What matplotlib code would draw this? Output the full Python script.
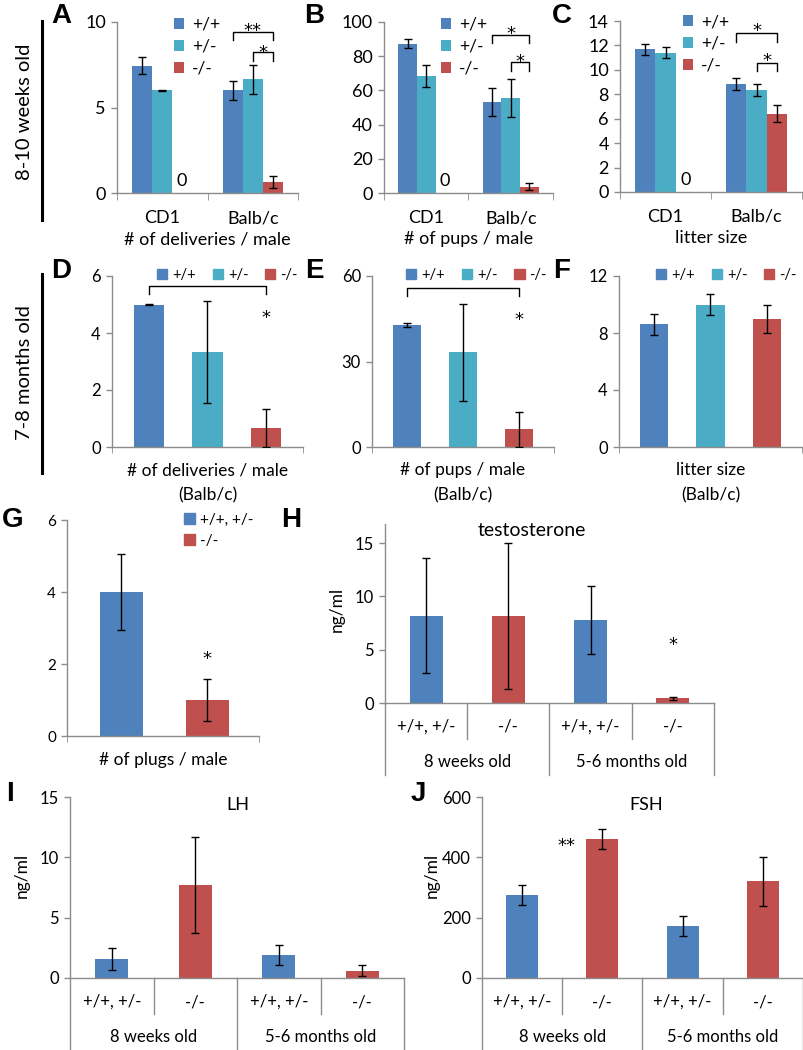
import numpy as np
import matplotlib
matplotlib.use('Agg')
import matplotlib.pyplot as plt
from matplotlib.patches import Patch
from matplotlib.lines import Line2D

plt.rcParams['font.family'] = ['Lato', 'DejaVu Sans']

## DATA

strains = ['CD1', 'Balb/c']
genotypes = ['+/+', '+/-', '-/-']
nan = np.nan

# 8-10 weeks old
a_wt, a_wt_err = [7.45, 6.0], [0.5, 0.57]
a_het, a_het_err = [6.0, 6.65], [0.02, 0.86]
a_ko, a_ko_err = [0, 0.65], [nan, 0.35]

b_wt, b_wt_err = [87.3, 53.2], [2.5, 8.0]
b_het, b_het_err = [68.2, 55.6], [6.5, 11.2]
b_ko, b_ko_err = [0, 3.8], [nan, 2.3]

c_wt, c_wt_err = [11.67, 8.85], [0.48, 0.52]
c_het, c_het_err = [11.42, 8.38], [0.45, 0.5]
c_ko, c_ko_err = [0, 6.42], [nan, 0.68]

# 7-8 months old (Balb/c)
d_vals, d_err = [5.0, 3.33, 0.67], [0.02, 1.78, 0.68]
e_vals, e_err = [42.8, 33.3, 6.2], [0.7, 17.0, 6.1]
f_vals, f_err = [8.6, 10.0, 9.0], [0.74, 0.76, 1.0]

# plugs
g_labels = ['+/+, +/-', '-/-']
g_vals, g_err = [4.0, 1.0], [1.06, 0.58]

# hormones
horm_labels = ['+/+, +/-', '-/-', '+/+, +/-', '-/-']
age_labels = ['8 weeks old', '5-6 months old']
h_vals, h_err = [8.2, 8.15, 7.8, 0.45], [5.4, 6.85, 3.2, 0.15]
i_vals, i_err = [1.55, 7.7, 1.9, 0.6], [0.9, 3.95, 0.85, 0.45]
j_vals, j_err = [275, 460, 172, 320], [33, 33, 32, 80]

BLUE = '#4F81BD'
CYAN = '#4BACC6'
RED = '#C0504D'
GRAY = '#8C8C8C'
cols3 = [BLUE, CYAN, RED]
cols4 = [BLUE, RED, BLUE, RED]

W, H = 804, 1050
PX = 72 / 100.0  # points per pixel
fig = plt.figure(figsize=(W / 100, H / 100), dpi=100)


def add_ax(x0, x1, y0, y1):
    return fig.add_axes([x0 / W, 1 - y1 / H, (x1 - x0) / W, (y1 - y0) / H])


def ftext(x, y, s, **kw):
    fig.text(x / W, 1 - y / H, s, ha=kw.pop('ha', 'center'), va=kw.pop('va', 'center'), **kw)


def style(ax, ylim, yticks, fs):
    for s in ['top', 'right']:
        ax.spines[s].set_visible(False)
    for s in ['left', 'bottom']:
        ax.spines[s].set_color(GRAY)
        ax.spines[s].set_linewidth(1)
    ax.set_ylim(*ylim)
    ax.set_yticks(yticks)
    ax.tick_params(axis='y', direction='out', length=4, width=1, color=GRAY, labelsize=fs, pad=4)
    ax.patch.set_alpha(0)


def errs(ax, xs, vals, err):
    xs = np.asarray(xs, float)
    vals = np.asarray(vals, float)
    err = np.asarray(err, float)
    ok = ~np.isnan(err)
    ax.errorbar(xs[ok], vals[ok], yerr=err[ok], fmt='none', ecolor='black',
                elinewidth=1, capsize=3, capthick=1, zorder=3)


def bracket(ax, x1, x2, y, yend):
    ax.plot([x1, x1, x2, x2], [yend, y, y, yend], color='black', lw=1, clip_on=False)


def star(ax, x, y, s, fs=13):
    # y is where the middle of the star should sit
    ax.annotate(s, (x, y), xytext=(0, -11 * PX), textcoords='offset points',
                ha='center', va='baseline', fontsize=fs, family='DejaVu Sans',
                annotation_clip=False)


def below(ax, x, px, s, fs):
    ax.annotate(s, (x, 0), xycoords=('data', 'axes fraction'), xytext=(0, -px * PX),
                textcoords='offset points', ha='center', va='center', fontsize=fs,
                annotation_clip=False)


def strain_panel(ax, series, series_err, ylim, yticks, xlab):
    w = 0.22
    hs = []
    for k, (v, e, c) in enumerate(zip(series, series_err, cols3)):
        xs = np.arange(2) + (k - 1) * w
        hs.append(ax.bar(xs, v, w, color=c, zorder=2))
        errs(ax, xs, v, e)
    style(ax, ylim, yticks, 13)
    ax.set_xlim(-0.5, 1.5)
    ax.set_xticks([])
    ax.set_xticks([-0.5, 0.5, 1.5], minor=True)
    ax.tick_params(axis='x', which='minor', direction='out', length=5, color=GRAY)
    for i, s in enumerate(strains):
        below(ax, i, 25, s, 13)
    below(ax, 0.5, 46, xlab, 13)
    ax.annotate('0', (w, 0), xytext=(0, 3), textcoords='offset points',
                ha='center', va='bottom', fontsize=13)
    ax.legend(hs, genotypes, loc='upper left', frameon=False, fontsize=12.5,
              handlelength=0.6, handleheight=0.6, handletextpad=0.45,
              labelspacing=0.33, borderpad=0, borderaxespad=0)
    return hs


def place_legend(ax, x, y):
    ax.get_legend().set_bbox_to_anchor((x / W, 1 - y / H), transform=fig.transFigure)


def single_panel(ax, vals, err, ylim, yticks, xlab):
    x = np.arange(3)
    ax.bar(x, vals, 0.51, color=cols3, zorder=2)
    errs(ax, x, vals, err)
    style(ax, ylim, yticks, 12)
    ax.set_xlim(-0.62, 2.62)
    ax.set_xticks([])
    ax.set_xticks([-0.62, 2.62], minor=True)
    ax.tick_params(axis='x', which='minor', direction='out', length=4, color=GRAY)
    below(ax, 1, 23, xlab, 12.5)
    below(ax, 1, 48, '(Balb/c)', 12.5)
    handles = [Patch(color=c) for c in cols3]
    ax.legend(handles, genotypes, loc='upper left', ncol=3, frameon=False, fontsize=10.5,
              handlelength=0.7, handleheight=0.7, handletextpad=0.35, columnspacing=1.15,
              borderpad=0, borderaxespad=0)


def two_level(ax, axh, fs=12):
    tr = ax.get_xaxis_transform()
    ax.set_xlim(-0.5, 3.5)
    ax.set_xticks([])
    for i, s in enumerate(horm_labels):
        ax.text(i, -24 / axh, s, transform=tr, ha='center', va='center', fontsize=fs)
    for xb in [0.5, 2.5]:
        ax.plot([xb, xb], [0, -36 / axh], transform=tr, color=GRAY, lw=1, clip_on=False)
    for xb in [-0.5, 1.5, 3.5]:
        ax.plot([xb, xb], [0, -72 / axh], transform=tr, color=GRAY, lw=1, clip_on=False)
    for i, s in enumerate(age_labels):
        ax.text(0.5 + 2 * i, -59 / axh, s, transform=tr, ha='center', va='center', fontsize=fs)


def horm_panel(ax, vals, err, ylim, yticks, axh):
    x = np.arange(4)
    ax.bar(x, vals, 0.4, color=cols4, zorder=2)
    errs(ax, x, vals, err)
    style(ax, ylim, yticks, 12)
    two_level(ax, axh)


## ROW 1: 8-10 WEEKS OLD

axA = add_ax(117, 298, 22, 193)
strain_panel(axA, [a_wt, a_het, a_ko], [a_wt_err, a_het_err, a_ko_err], (0, 10), [0, 5, 10],
             '# of deliveries / male')
place_legend(axA, 174, 17)
bracket(axA, 0.78, 1.22, 9.4, 8.96)
bracket(axA, 1.0, 1.22, 8.26, 7.74)
star(axA, 1.0, 9.82, '**')
star(axA, 1.11, 8.56, '*')

axB = add_ax(384, 553, 22, 193)
strain_panel(axB, [b_wt, b_het, b_ko], [b_wt_err, b_het_err, b_ko_err], (0, 100),
             [0, 20, 40, 60, 80, 100], '# of pups / male')
place_legend(axB, 441, 17)
bracket(axB, 0.78, 1.22, 92.6, 87.9)
bracket(axB, 1.0, 1.22, 76.8, 71.5)
star(axB, 1.0, 96.7, '*')
star(axB, 1.11, 80.3, '*')

axC = add_ax(620, 802, 21, 192)
strain_panel(axC, [c_wt, c_het, c_ko], [c_wt_err, c_het_err, c_ko_err], (0, 14),
             [0, 2, 4, 6, 8, 10, 12, 14], 'litter size')
place_legend(axC, 683, 14)
bracket(axC, 0.78, 1.22, 13.0, 12.27)
bracket(axC, 1.0, 1.22, 10.55, 9.89)
star(axC, 1.0, 13.7, '*')
star(axC, 1.11, 11.2, '*')

## ROW 2: 7-8 MONTHS OLD

axD = add_ax(112, 303, 276, 447)
single_panel(axD, d_vals, d_err, (0, 6), [0, 2, 4, 6], '# of deliveries / male')
place_legend(axD, 157, 268)
bracket(axD, 0, 2, 5.65, 5.37)
star(axD, 2, 4.73, '*')

axE = add_ax(372, 554, 276, 447)
single_panel(axE, e_vals, e_err, (0, 60), [0, 30, 60], '# of pups / male')
place_legend(axE, 406, 268)
bracket(axE, 0, 2, 55.7, 53.0)
star(axE, 2, 46.7, '*')

axF = add_ax(619, 802, 276, 447)
single_panel(axF, f_vals, f_err, (0, 12), [0, 4, 8, 12], 'litter size')
place_legend(axF, 656, 268)

## G: PLUGS

axG = add_ax(67, 259, 520, 736)
axG.bar([0, 1], g_vals, 0.5, color=[BLUE, RED], zorder=2)
errs(axG, [0, 1], g_vals, g_err)
style(axG, (0, 6), [0, 2, 4, 6], 11)
axG.set_xlim(-0.63, 1.6)
axG.set_xticks([])
axG.set_xticks([-0.63, 1.6], minor=True)
axG.tick_params(axis='x', which='minor', direction='out', length=4, color=GRAY)
below(axG, 0.485, 24, '# of plugs / male', 12.5)
star(axG, 1, 2.3, '*')
axG.legend([Patch(color=BLUE), Patch(color=RED)], g_labels, loc='upper left', frameon=False,
           fontsize=11, handlelength=0.7, handleheight=0.7, handletextpad=0.35,
           labelspacing=0.45, borderpad=0, borderaxespad=0,
           bbox_to_anchor=(184 / W, 1 - 513 / H), bbox_transform=fig.transFigure)

## H, I, J: HORMONES

axH = add_ax(385, 714, 524, 703)
horm_panel(axH, h_vals, h_err, (0, 16.8), [0, 5, 10, 15], 179)
star(axH, 3, 6.0, '*')

axI = add_ax(70, 404, 797, 978)
horm_panel(axI, i_vals, i_err, (0, 15), [0, 5, 10, 15], 181)

axJ = add_ax(482, 803, 797, 978)
horm_panel(axJ, j_vals, j_err, (0, 600), [0, 200, 400, 600], 181)
star(axJ, 0.55, 457, '**')

ftext(532, 531, 'testosterone', fontsize=14)
ftext(238, 805, 'LH', fontsize=13)
ftext(646, 805, 'FSH', fontsize=13)
ftext(337, 609, 'ng/ml', rotation=90, fontsize=12.5)
ftext(22, 875, 'ng/ml', rotation=90, fontsize=12.5)
ftext(432, 875, 'ng/ml', rotation=90, fontsize=12.5)

## ROW LABELS AND PANEL LETTERS

ftext(25, 112, '8-10 weeks old', rotation=90, fontsize=14.5)
ftext(25, 373, '7-8 months old', rotation=90, fontsize=14.5)
fig.add_artist(Line2D([42 / W, 42 / W], [1 - 21 / H, 1 - 220 / H], lw=2.2, color='black'))
fig.add_artist(Line2D([42 / W, 42 / W], [1 - 274 / H, 1 - 473 / H], lw=2.2, color='black'))

letters = [('A', 61, 16), ('B', 314, 16), ('C', 562, 16),
           ('D', 61, 271), ('E', 314, 271), ('F', 562, 271),
           ('G', 13, 520), ('H', 291, 520), ('I', 10, 794), ('J', 418, 794)]
for s, x, y in letters:
    ftext(x, y, s, fontsize=20, fontweight='bold', family='Liberation Sans')

fig.savefig('out.png', dpi=100)
